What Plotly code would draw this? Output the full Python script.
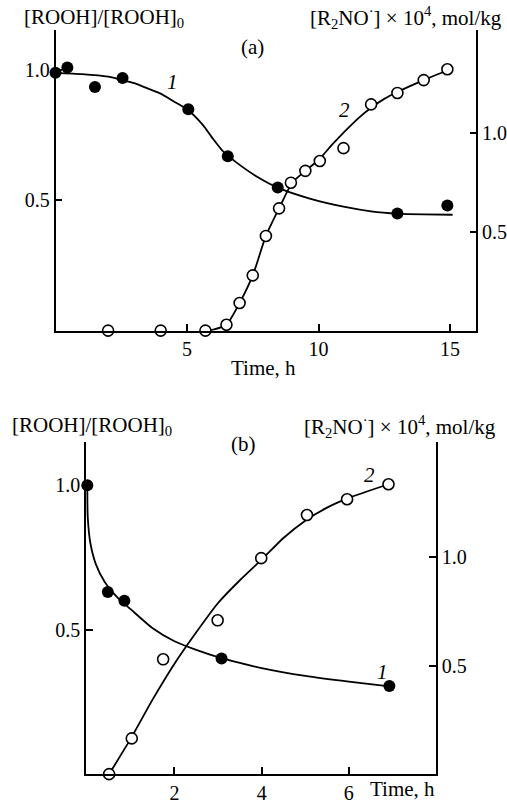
import plotly.graph_objects as go

# ---------------- Panel (a) ----------------
a_t_rooh = [0.0, 0.45, 1.5, 2.55, 5.05, 6.55, 8.45, 13.0, 14.9]
a_rooh = [0.99, 1.01, 0.935, 0.97, 0.85, 0.67, 0.55, 0.45, 0.48]
a_fit1_t = [0.0, 1.0, 2.0, 2.5, 3.0, 3.5, 4.0, 4.5, 5.0, 5.6, 6.0, 6.4, 6.9, 7.6, 8.5, 9.7, 11.0, 12.0, 13.0, 14.0, 15.1]
a_fit1 = [0.99, 0.985, 0.975, 0.963, 0.95, 0.93, 0.91, 0.88, 0.85, 0.79, 0.735, 0.685, 0.644, 0.595, 0.547, 0.506, 0.475, 0.458, 0.449, 0.446, 0.445]

a_t_nitrox = [2.0, 4.0, 5.7, 6.5, 7.0, 7.5, 8.0, 8.5, 8.95, 9.5, 10.05, 10.95, 12.0, 13.0, 14.0, 14.9]
a_nitrox = [0.0, 0.0, 0.0, 0.03, 0.14, 0.28, 0.48, 0.62, 0.75, 0.81, 0.86, 0.925, 1.147, 1.205, 1.27, 1.325]
a_fit2_t = [5.8, 6.0, 6.5, 7.0, 7.5, 8.0, 8.5, 9.0, 9.5, 10.0, 10.5, 11.0, 11.5, 12.0, 12.5, 13.0, 14.0, 15.0]
a_fit2 = [0.0, 0.005, 0.03, 0.14, 0.28, 0.48, 0.62, 0.75, 0.81, 0.865, 0.94, 1.01, 1.075, 1.13, 1.175, 1.21, 1.27, 1.325]

# ---------------- Panel (b) ----------------
b_t_rooh = [0.0, 0.47, 0.85, 3.08, 6.93]
b_rooh = [1.0, 0.63, 0.60, 0.40, 0.305]
b_fit1_t = [0.0, 0.01, 0.07, 0.2, 0.4, 0.7, 1.0, 1.5, 2.0, 2.5, 3.0, 3.5, 4.0, 5.0, 6.0, 6.93]
b_fit1 = [1.0, 0.89, 0.80, 0.725, 0.665, 0.61, 0.57, 0.505, 0.46, 0.43, 0.405, 0.385, 0.367, 0.34, 0.32, 0.304]

b_t_nitrox = [0.5, 1.02, 1.74, 2.99, 3.99, 5.04, 5.96, 6.91]
b_nitrox = [0.0, 0.165, 0.53, 0.71, 0.997, 1.196, 1.269, 1.338]
b_fit2_t = [0.5, 1.0, 1.5, 2.0, 2.5, 3.0, 3.5, 4.0, 4.5, 5.0, 5.5, 6.0, 6.91]
b_fit2 = [0.0, 0.165, 0.345, 0.51, 0.655, 0.79, 0.895, 0.99, 1.09, 1.17, 1.23, 1.275, 1.338]

W, H = 507, 804
FONT = "Liberation Serif"
LW = 1.8


def px(x):
    return x / W


def py(y):
    return 1 - y / H


fig = go.Figure()

line = dict(color="black", width=LW, shape="spline", smoothing=0.6)
filled = dict(color="black", size=12, line=dict(color="black", width=0))
hollow = dict(color="white", size=11, line=dict(color="black", width=1.6))

# panel a
fig.add_trace(go.Scatter(x=a_fit1_t, y=a_fit1, mode="lines", line=line, xaxis="x", yaxis="y", cliponaxis=False))
fig.add_trace(go.Scatter(x=a_fit2_t, y=a_fit2, mode="lines", line=line, xaxis="x", yaxis="y2", cliponaxis=False))
fig.add_trace(go.Scatter(x=a_t_rooh, y=a_rooh, mode="markers", marker=filled, xaxis="x", yaxis="y", cliponaxis=False))
fig.add_trace(go.Scatter(x=a_t_nitrox, y=a_nitrox, mode="markers", marker=hollow, xaxis="x", yaxis="y2", cliponaxis=False))

# panel b
fig.add_trace(go.Scatter(x=b_fit1_t, y=b_fit1, mode="lines", line=line, xaxis="x2", yaxis="y3", cliponaxis=False))
fig.add_trace(go.Scatter(x=b_fit2_t, y=b_fit2, mode="lines", line=line, xaxis="x2", yaxis="y4", cliponaxis=False))
fig.add_trace(go.Scatter(x=b_t_rooh, y=b_rooh, mode="markers", marker=filled, xaxis="x2", yaxis="y3", cliponaxis=False))
fig.add_trace(go.Scatter(x=b_t_nitrox, y=b_nitrox, mode="markers", marker=hollow, xaxis="x2", yaxis="y4", cliponaxis=False))

axis_common = dict(
    showline=True, linecolor="black", linewidth=1.6, ticks="inside", ticklen=7,
    tickwidth=1.5, tickcolor="black", showgrid=False, zeroline=False,
    tickfont=dict(family=FONT, size=20, color="black"), fixedrange=True,
)

fig.update_layout(
    width=W, height=H, margin=dict(l=0, r=0, t=0, b=0),
    paper_bgcolor="white", plot_bgcolor="white", showlegend=False,
    font=dict(family=FONT, color="black"),
    xaxis=dict(domain=[px(55.5), px(476.3)], range=[0, 16], anchor="y",
               tickvals=[5, 10, 15], **axis_common),
    yaxis=dict(domain=[py(332.7), py(30)], range=[0, 1.155], anchor="x",
               tickvals=[0.5, 1.0], tickformat=".1f", **axis_common),
    yaxis2=dict(domain=[py(332.7), py(30)], range=[0, 1.525], anchor="x", overlaying="y",
                side="right", tickvals=[0.5, 1.0], tickformat=".1f", **axis_common),
    xaxis2=dict(domain=[px(86), px(436)], range=[-0.03, 8], anchor="y3",
                tickvals=[2, 4, 6], **axis_common),
    yaxis3=dict(domain=[py(779), py(445)], range=[0, 1.1486], anchor="x2",
                tickvals=[0.5, 1.0], tickformat=".1f", **axis_common),
    yaxis4=dict(domain=[py(779), py(445)], range=[0, 1.532], anchor="x2", overlaying="y3",
                side="right", tickvals=[0.5, 1.0], tickformat=".1f", **axis_common),
)

tf = dict(family=FONT, size=21, color="black")
ann = []
# titles panel a
ann.append(dict(text="[ROOH]/[ROOH]<sub>0</sub>", x=px(104), y=py(18), xref="paper", yref="paper",
                xanchor="center", yanchor="middle", showarrow=False, font=tf))
ann.append(dict(text="[R<sub>2</sub>NO<sup>·</sup>] × 10<sup>4</sup>, mol/kg", x=px(504), y=py(18),
                xref="paper", yref="paper", xanchor="right", yanchor="middle", showarrow=False, font=tf))
ann.append(dict(text="(a)", x=px(252), y=py(47), xref="paper", yref="paper",
                xanchor="center", yanchor="middle", showarrow=False, font=tf))
ann.append(dict(text="Time, h", x=px(263), y=py(370), xref="paper", yref="paper",
                xanchor="center", yanchor="middle", showarrow=False, font=tf))
ann.append(dict(text="<i>1</i>", x=4.43, y=0.953, xref="x", yref="y", showarrow=False, font=tf))
ann.append(dict(text="<i>2</i>", x=10.97, y=1.12, xref="x", yref="y2", showarrow=False, font=tf))
# titles panel b
ann.append(dict(text="[ROOH]/[ROOH]<sub>0</sub>", x=px(92), y=py(429), xref="paper", yref="paper",
                xanchor="center", yanchor="middle", showarrow=False, font=tf))
ann.append(dict(text="[R<sub>2</sub>NO<sup>·</sup>] × 10<sup>4</sup>, mol/kg", x=px(498), y=py(429),
                xref="paper", yref="paper", xanchor="right", yanchor="middle", showarrow=False, font=tf))
ann.append(dict(text="(b)", x=px(243), y=py(447), xref="paper", yref="paper",
                xanchor="center", yanchor="middle", showarrow=False, font=tf))
ann.append(dict(text="Time, h", x=px(402), y=py(794), xref="paper", yref="paper",
                xanchor="center", yanchor="middle", showarrow=False, font=tf))
ann.append(dict(text="<i>1</i>", x=6.77, y=0.355, xref="x2", yref="y3", showarrow=False, font=tf))
ann.append(dict(text="<i>2</i>", x=6.47, y=1.38, xref="x2", yref="y4", showarrow=False, font=tf))

fig.update_layout(annotations=ann)

fig.write_html("out.html")
